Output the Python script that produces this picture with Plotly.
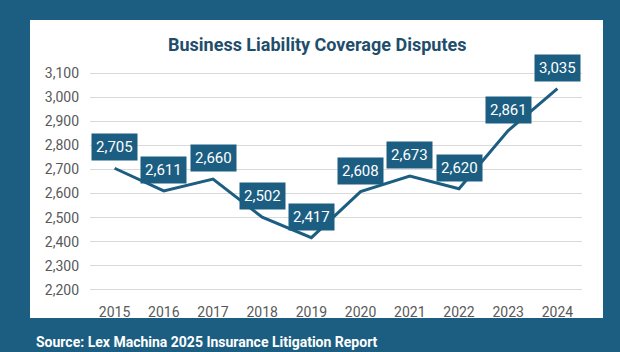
import plotly.graph_objects as go

years = ["2015", "2016", "2017", "2018", "2019", "2020", "2021", "2022", "2023", "2024"]
disputes = [2705, 2611, 2660, 2502, 2417, 2608, 2673, 2620, 2861, 3035]
y_ticks = [2200, 2300, 2400, 2500, 2600, 2700, 2800, 2900, 3000, 3100]

title_text = "Business Liability Coverage Disputes"
source_text = "Source: Lex Machina 2025 Insurance Litigation Report"

BLUE = "#1B5E82"
TITLE = "#1F4E6B"
GRAY = "#595959"
FONT = "Liberation Sans Narrow, Arial Narrow, Roboto, sans-serif"

W, H = 620, 352
L, R, T, B = 90, 38, 61, 50
pw, ph = W - L - R, H - T - B

def px(x):
    return (x - L) / pw

def py(y):
    return 1 - (y - T) / ph

fig = go.Figure()
fig.add_trace(go.Scatter(
    x=years, y=disputes, mode="lines",
    line=dict(color=BLUE, width=3), hoverinfo="skip", showlegend=False,
))

for i, v in enumerate(disputes):
    fig.add_annotation(
        x=i, y=v, xref="x", yref="y", yshift=21,
        text=f"{v:,}", showarrow=False,
        font=dict(family=FONT, size=15, color="white"),
        bgcolor=BLUE, borderpad=4,
    )

fig.add_shape(type="rect", xref="paper", yref="paper",
              x0=px(30), x1=px(603), y0=py(318), y1=py(20),
              fillcolor="white", line=dict(width=0), layer="below")

fig.add_annotation(xref="paper", yref="paper", x=0.5 * (px(30) + px(603)), y=py(44),
                   text=f"<b>{title_text}</b>", showarrow=False,
                   font=dict(family=FONT, size=18, color=TITLE),
                   xanchor="center", yanchor="middle")

fig.add_annotation(xref="paper", yref="paper", x=px(34), y=py(342),
                   text=f"<b>{source_text}</b>", showarrow=False,
                   font=dict(family=FONT, size=14, color="white"),
                   xanchor="left", yanchor="middle")

fig.update_layout(
    width=W, height=H,
    margin=dict(l=L, r=R, t=T, b=B),
    paper_bgcolor=BLUE, plot_bgcolor="white",
    xaxis=dict(type="category", range=[-0.5, 9.5], showgrid=False, zeroline=False,
               showline=False, ticks="",
               tickfont=dict(family=FONT, size=14, color=GRAY), fixedrange=True),
    yaxis=dict(range=[2150, 3150], tickvals=y_ticks,
               ticktext=[f"{t:,}" for t in y_ticks],
               showgrid=True, gridcolor="#D9D9D9", gridwidth=1, zeroline=False,
               showline=False, ticks="", ticklabelstandoff=10,
               tickfont=dict(family=FONT, size=14, color=GRAY), fixedrange=True),
)

fig.write_html("out.html")
